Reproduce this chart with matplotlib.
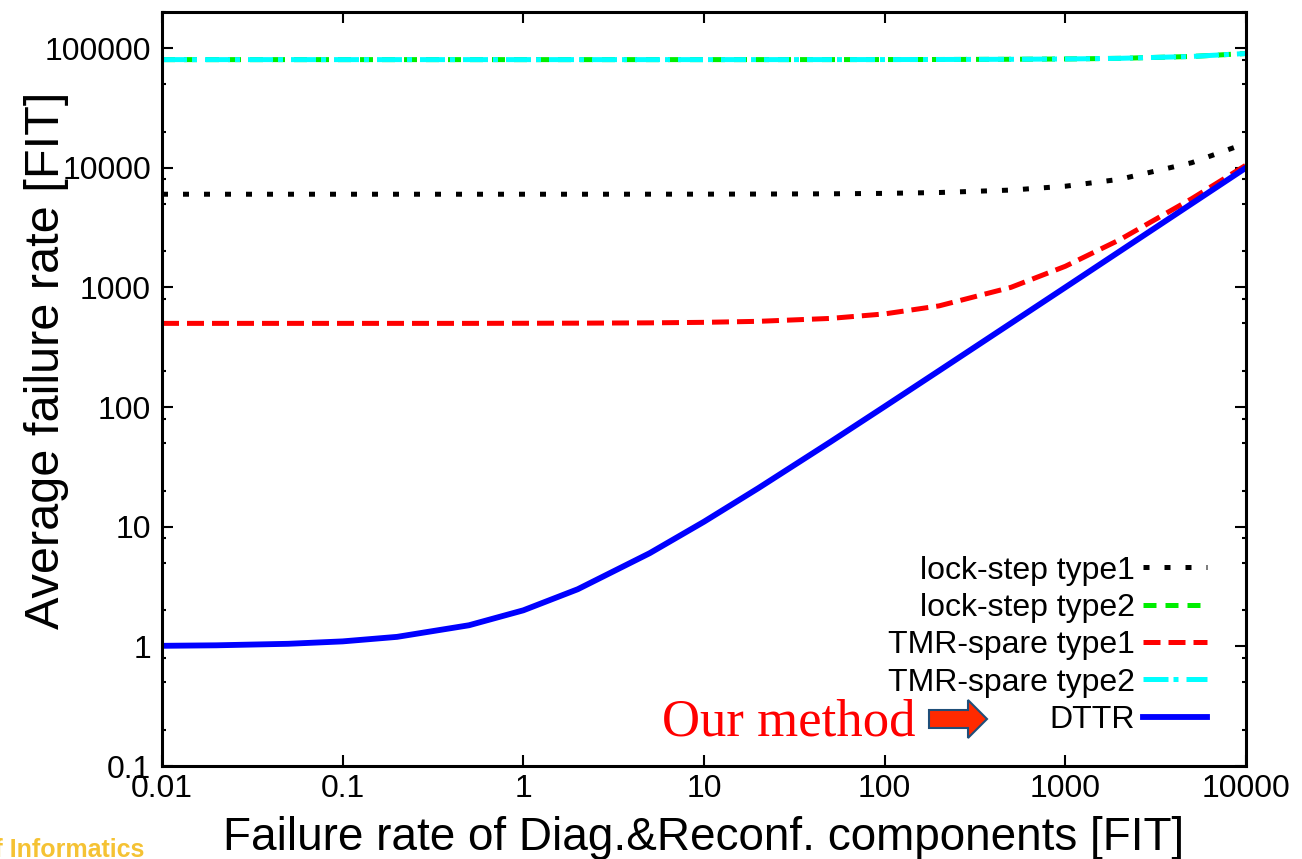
import matplotlib
matplotlib.use("Agg")
import matplotlib.pyplot as plt
from matplotlib.patches import Polygon
from matplotlib.ticker import FixedLocator, NullFormatter

# failure rate of the diagnosis & reconfiguration parts [FIT]
diag_fit = [0.01, 0.02, 0.05, 0.1, 0.2, 0.5, 1, 2, 5, 10, 20, 50,
            100, 200, 500, 1000, 2000, 5000, 10000]

lockstep1 = [6000, 6000, 6000, 6000, 6000, 6000, 6000, 6000, 6005, 6010,
             6020, 6050, 6100, 6200, 6500, 7000, 8000, 11000, 16000]
lockstep2 = [80000, 80000, 80000, 80000, 80000, 80000, 80000, 80000, 80000,
             80010, 80020, 80050, 80100, 80200, 80500, 81000, 82000, 85000, 90000]
tmr1 = [500, 500, 500, 500, 500, 500, 501, 502, 505, 510,
        520, 550, 600, 700, 1000, 1500, 2500, 5500, 10500]
tmr2 = [80000, 80000, 80000, 80000, 80000, 80000, 80000, 80000, 80000,
        80010, 80020, 80050, 80100, 80200, 80500, 81000, 82000, 85000, 90000]
dttr = [1.01, 1.02, 1.05, 1.1, 1.2, 1.5, 2, 3, 6, 11,
        21, 51, 101, 201, 501, 1000, 2000, 5000, 10000]

x_ticks = [0.01, 0.1, 1, 10, 100, 1000, 10000]
x_labels = ["0.01", "0.1", "1", "10", "100", "1000", "10000"]
y_ticks = [0.1, 1, 10, 100, 1000, 10000, 100000]
y_labels = ["0.1", "1", "10", "100", "1000", "10000", "100000"]

W, H = 1302, 859
plt.rcParams['font.family'] = ['Liberation Sans', 'DejaVu Sans']


def fig_xy(x, y):
    # pixel position (from top-left) -> figure fraction
    return x / W, 1 - y / H


fig = plt.figure(figsize=(W / 100, H / 100), dpi=100)
ax = fig.add_axes([162 / W, 1 - 766 / H, (1246 - 162) / W, (766 - 12) / H])

lw = 3.6
ax.plot(diag_fit, lockstep1, color='black', lw=lw, dash_capstyle='butt',
        dashes=(1.2, 3.0), label='lock-step type1')
ax.plot(diag_fit, lockstep2, color='#00ee00', lw=lw, dash_capstyle='butt',
        dashes=(2.6, 1.8), label='lock-step type2')
ax.plot(diag_fit, tmr1, color='#ff0000', lw=lw, dash_capstyle='butt',
        dashes=(3.4, 1.6), label='TMR-spare type1')
ax.plot(diag_fit, tmr2, color='cyan', lw=lw, dash_capstyle='butt',
        dashes=(5.0, 1.0, 1.0, 1.6), label='TMR-spare type2')
ax.plot(diag_fit, dttr, color='#0000ff', lw=4.2, label='DTTR')

ax.set_xscale('log')
ax.set_yscale('log')
ax.set_xlim(0.01, 10000)
ax.set_ylim(0.1, 2e5)

ax.xaxis.set_major_locator(FixedLocator(x_ticks))
ax.set_xticklabels(x_labels)
ax.xaxis.set_minor_locator(FixedLocator([]))
ax.yaxis.set_major_locator(FixedLocator(y_ticks))
ax.set_yticklabels(y_labels)
y_minor = [m * 10.0 ** e for e in range(-1, 6) for m in (2, 5, 8)]
ax.yaxis.set_minor_locator(FixedLocator(y_minor))
ax.yaxis.set_minor_formatter(NullFormatter())

ax.tick_params(which='both', direction='in', top=True, right=True,
               labelsize=23, width=1.5, color='black')
ax.tick_params(which='major', length=8, pad=8)
ax.tick_params(axis='x', which='major', pad=6)
ax.tick_params(which='minor', length=3)
for s in ax.spines.values():
    s.set_linewidth(2.2)

# axis titles placed by hand
fig.text(*fig_xy(704, 850), 'Failure rate of Diag.&Reconf. components [FIT]',
         fontsize=33, ha='center', va='baseline')
fig.text(*fig_xy(47, 360), 'Average failure rate [FIT]', fontsize=35,
         rotation=90, ha='center', va='center')

leg = ax.legend(loc='lower right', bbox_to_anchor=((1207 - 162) / 1084, (766 - 735) / 754),
                frameon=False, markerfirst=False, fontsize=23, handlelength=2.0,
                handletextpad=0.25, labelspacing=0.23, borderaxespad=0, borderpad=0)

# "Our method" callout with a block arrow pointing at DTTR
fig.text(*fig_xy(662, 736), 'Our method', family=['Liberation Serif', 'DejaVu Serif'],
         fontsize=38, color='#ff0000', ha='left', va='baseline')
arrow_px = [(929, 710), (968, 710), (968, 700), (987, 719),
            (968, 738), (968, 728), (929, 728)]
arrow = Polygon([fig_xy(x, y) for x, y in arrow_px], closed=True,
                transform=fig.transFigure, facecolor='#ff2a00',
                edgecolor='#1f4e79', lw=1.5)
fig.patches.append(arrow)

fig.text(-0.016, 1 - 857 / H, 'of Informatics', fontsize=18, fontweight='bold',
         color='#f5c233', ha='left', va='baseline')

fig.savefig('out.png', dpi=100, facecolor='white')
